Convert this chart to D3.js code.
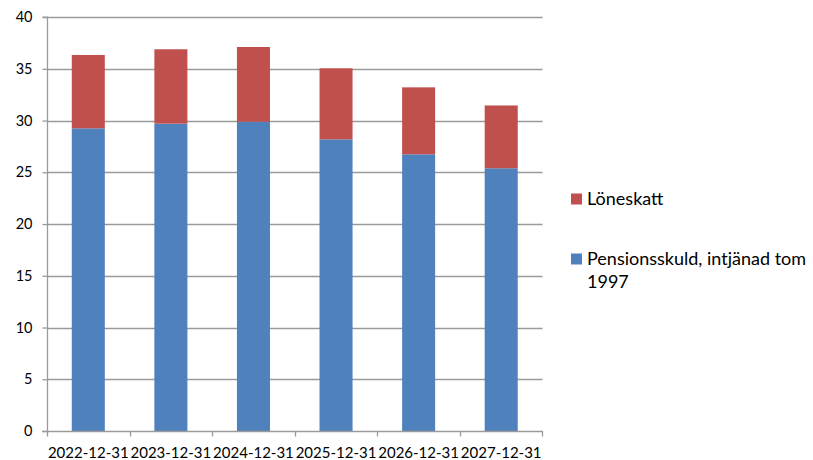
<!DOCTYPE html>
<html><head><meta charset="utf-8">
<script src="https://cdn.jsdelivr.net/npm/d3@7"></script>
<style>body{margin:0;background:#fff;} text{font-family:Lato, "Open Sans", sans-serif;fill:#000;}</style>
</head><body>
<svg id="c" width="813" height="460"></svg>
<script>
const categories = ["2022-12-31","2023-12-31","2024-12-31","2025-12-31","2026-12-31","2027-12-31"];
const pensionsskuld = [29.25, 29.70, 29.89, 28.19, 26.74, 25.39];
const loneskatt = [7.09, 7.19, 7.22, 6.86, 6.47, 6.07];
const seriesNames = ["Pensionsskuld, intjänad tom 1997", "Löneskatt"];
const yTicks = [0,5,10,15,20,25,30,35,40];

const svg = d3.select("#c");
const pLeft = 47, pRight = 542.5, pTop = 17.1, pBottom = 431;
const x = d3.scaleBand().domain(categories).range([pLeft, pRight]).paddingInner(0.6).paddingOuter(0.3);
const y = d3.scaleLinear().domain([0, 40]).range([pBottom, pTop]);
const grid = "#9a9a9a";

// gridlines
svg.append("g").selectAll("line").data(yTicks.filter(d=>d>0)).join("line")
  .attr("x1", pLeft).attr("x2", pRight).attr("y1", d=>Math.round(y(d))+0.5).attr("y2", d=>Math.round(y(d))+0.5)
  .attr("stroke", grid).attr("stroke-width", 1.3);

const rows = categories.map((c,i)=>({cat:c, p:pensionsskuld[i], l:loneskatt[i]}));
const g = svg.append("g");
g.selectAll("rect.p").data(rows).join("rect").attr("class","p")
  .attr("x", d=>x(d.cat)).attr("width", x.bandwidth())
  .attr("y", d=>y(d.p)).attr("height", d=>y(0)-y(d.p)).attr("fill", "#4F81BD");
g.selectAll("rect.l").data(rows).join("rect").attr("class","l")
  .attr("x", d=>x(d.cat)).attr("width", x.bandwidth())
  .attr("y", d=>y(d.p+d.l)).attr("height", d=>y(d.p)-y(d.p+d.l)).attr("fill", "#C0504D");

// y axis
const ya = svg.append("g").attr("transform", `translate(${pLeft+0.5},0)`)
  .call(d3.axisLeft(y).tickValues(yTicks).tickSize(5).tickPadding(10));
ya.select(".domain").attr("stroke", grid).attr("stroke-width",1.3).attr("d", `M-5,${y(40)}H0V${y(0)}`);
ya.selectAll(".tick line").attr("stroke", grid).attr("stroke-width",1.3);
ya.selectAll(".tick text").attr("font-size", 14.5).attr("font-family","Lato").attr("fill","#000");

// x axis
const xa = svg.append("g").attr("transform", `translate(0,${Math.round(y(0))+0.5})`);
xa.append("line").attr("x1", pLeft-5).attr("x2", pRight+0.5).attr("stroke", grid).attr("stroke-width",1.3);
const edges = [pLeft].concat(categories.map(c=>x(c)+x.bandwidth()+x.step()*x.paddingInner()/2));
xa.selectAll("line.t").data(edges).join("line").attr("class","t")
  .attr("x1", d=>Math.round(d)+0.5).attr("x2", d=>Math.round(d)+0.5).attr("y1",0).attr("y2",5)
  .attr("stroke", grid).attr("stroke-width",1.3);
xa.selectAll("text").data(categories).join("text")
  .attr("x", d=>x(d)+x.bandwidth()/2).attr("y", 26.5).attr("text-anchor","middle")
  .attr("font-size", 15).text(d=>d);

// legend
const leg = svg.append("g");
const legItems = [
  {color:"#C0504D", y:199, lines:[seriesNames[1]]},
  {color:"#4F81BD", y:259, lines:["Pensionsskuld, intjänad tom","1997"]}
];
legItems.forEach(it=>{
  leg.append("rect").attr("x",571).attr("y",it.y-5.5).attr("width",11).attr("height",11).attr("fill",it.color);
  const t = leg.append("text").attr("x",587).attr("y",it.y+6).attr("font-size",18);
  it.lines.forEach((ln,i)=>t.append("tspan").attr("x",587).attr("dy", i===0?0:22.5).text(ln));
});
</script>
</body></html>
